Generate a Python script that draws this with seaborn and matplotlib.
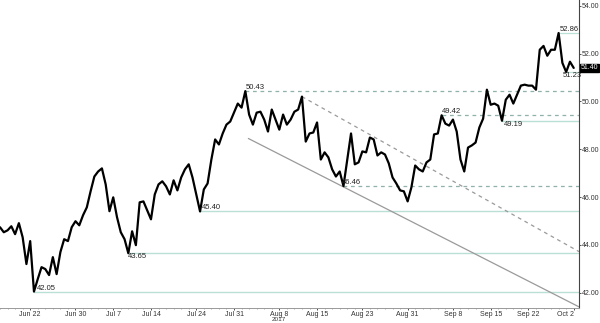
import numpy as np
import pandas as pd
import matplotlib
matplotlib.use("Agg")
import matplotlib.pyplot as plt
import seaborn as sns

# ---- data (half business-day closes, starting Fri Jun 16 2017) ----
close = [
    44.74, 44.53, 44.61, 44.78, 44.45, 44.91, 44.32, 43.20, 44.16, 42.05,
    42.57, 43.07, 42.99, 42.74, 43.49, 42.78, 43.70, 44.24, 44.16, 44.74,
    44.99, 44.82, 45.24, 45.57, 46.24, 46.86, 47.07, 47.20, 46.53, 45.41,
    45.99, 45.16, 44.53, 44.24, 43.65, 44.57, 43.99, 45.78, 45.82, 45.45,
    45.07, 46.11, 46.53, 46.66, 46.45, 46.11, 46.70, 46.28, 46.82, 47.16,
    47.37, 46.82, 46.11, 45.40, 46.32, 46.57, 47.57, 48.41, 48.20, 48.66,
    49.03, 49.16, 49.53, 49.91, 49.74, 50.43, 49.45, 49.03, 49.53, 49.57,
    49.24, 48.74, 49.66, 49.24, 48.82, 49.45, 49.03, 49.24, 49.57, 49.66,
    50.20, 48.32, 48.66, 48.70, 49.12, 47.57, 47.87, 47.66, 47.16, 46.86,
    47.07, 46.46, 47.57, 48.66, 47.37, 47.45, 47.91, 47.87, 48.49, 48.41,
    47.74, 47.87, 47.78, 47.41, 46.82, 46.57, 46.28, 46.24, 45.82, 46.41,
    47.32, 47.16, 47.07, 47.45, 47.57, 48.62, 48.66, 49.42, 49.07, 48.99,
    49.24, 48.74, 47.57, 47.07, 48.07, 48.16, 48.28, 48.91, 49.28, 50.49,
    49.86, 49.91, 49.82, 49.19, 50.07, 50.28, 49.91, 50.28, 50.66, 50.70,
    50.66, 50.66, 50.49, 52.16, 52.32, 51.91, 52.16, 52.16, 52.86, 51.61,
    51.23, 51.66, 51.40,
]
tick_days = [4, 10, 15, 20, 26, 31, 37, 42, 48, 54, 60, 65, 70, 76]
tick_labels = ["Jun 22", "Jun 30", "Jul 7", "Jul 14", "Jul 24", "Jul 31", "Aug 8",
               "Aug 15", "Aug 23", "Aug 31", "Sep 8", "Sep 15", "Sep 22", "Oct 2"]
ytick_vals = [42, 44, 46, 48, 50, 52, 54]

# support / resistance levels: (value, start index in close)
solid_levels = [(42.05, 9), (43.65, 34), (45.40, 53), (49.19, 133)]
dashed_levels = [(50.43, 65), (49.42, 117), (46.46, 91)]
# trend lines: (start day, start value, end value at right edge)
down_dashed = (40.0, 50.20, 43.72)
down_solid = (32.9, 48.45, 41.41)

x_end = 76.7
df = pd.DataFrame({"day": np.arange(len(close)) * 0.5, "price": close})

sns.set_theme(style="white")
plt.rcParams["font.family"] = ["Liberation Sans", "DejaVu Sans"]

fig = plt.figure(figsize=(6.0, 3.23), dpi=100)
ax = fig.add_axes([0.0, 0.047, 0.965, 0.953])

teal = "#b9dfd6"
dash_col = "#8fb3ac"

for val, i in solid_levels:
    ax.plot([df.day[i], x_end], [val, val], color=teal, lw=1.0, zorder=1)
for val, i in dashed_levels:
    ax.plot([df.day[i], x_end], [val, val], color=dash_col, lw=0.9,
            ls=(0, (3, 3)), zorder=1)
ax.plot([down_dashed[0], x_end], [down_dashed[1], down_dashed[2]], color="#9a9a9a",
        lw=0.9, ls=(0, (3, 3)), zorder=1)
ax.plot([down_solid[0], x_end], [down_solid[1], down_solid[2]], color="#9a9a9a",
        lw=0.9, zorder=1)
# short level marks near the end
ax.plot([df.day[148], x_end], [52.86, 52.86], color=teal, lw=0.9, zorder=1)
ax.plot([df.day[150], x_end], [51.23, 51.23], color=teal, lw=0.9, zorder=1)

sns.lineplot(data=df, x="day", y="price", ax=ax, color="black", lw=1.6, zorder=3)

fs = 5.5
tc = "#222222"
# level labels
ax.text(df.day[9] + 0.4, 42.05, "42.05", fontsize=fs, color=tc, va="bottom", ha="left")
ax.text(df.day[34], 43.65, "43.65", fontsize=fs, color=tc, va="top", ha="left")
ax.text(df.day[53] + 0.2, 45.40, "45.40", fontsize=fs, color=tc, va="bottom", ha="left")
ax.text(df.day[91] - 0.2, 46.46, "46.46", fontsize=fs, color=tc, va="bottom", ha="left")
ax.text(df.day[65], 50.43, "50.43", fontsize=fs, color=tc, va="bottom", ha="left")
ax.text(df.day[117], 49.42, "49.42", fontsize=fs, color=tc, va="bottom", ha="left")
ax.text(df.day[133] + 0.2, 49.19, "49.19", fontsize=fs, color=tc, va="top", ha="left")
ax.text(df.day[148] + 0.1, 52.86, "52.86", fontsize=fs, color=tc, va="bottom", ha="left")
ax.text(df.day[150] - 0.4, 51.23, "51.23", fontsize=fs, color=tc, va="top", ha="left")

ax.set_xlim(0, x_end)
ax.set_ylim(41.37, 54.24)

ax.yaxis.tick_right()
ax.set_yticks(ytick_vals)
ax.set_yticklabels([f"{v:.2f}" for v in ytick_vals])
ax.set_xticks(tick_days)
ax.set_xticklabels(tick_labels)
for lab in ax.get_xticklabels():
    if lab.get_text() == "Oct 2":
        lab.set_ha("right")
ax.set_xticks(np.arange(0, 77, 1), minor=True)
ax.tick_params(axis="y", which="both", direction="out", length=1.5, width=0.6,
               labelsize=5.0, pad=0.6, colors="#333333", right=True, left=False)
ax.tick_params(axis="x", which="major", direction="out", length=1.5, width=0.6,
               labelsize=5.0, pad=0.5, colors="#333333", bottom=True)
ax.tick_params(axis="x", which="minor", direction="out", length=1.0, width=0.5,
               colors="#888888", bottom=True)
ax.set_xlabel("")
ax.set_ylabel("")
for s in ["left", "top"]:
    ax.spines[s].set_visible(False)
ax.spines["right"].set_color("#444444")
ax.spines["right"].set_linewidth(0.8)
ax.spines["bottom"].set_color("#999999")
ax.spines["bottom"].set_linewidth(0.7)
ax.grid(False)

# year label under Aug 8
ax.annotate("2017", xy=(37, 0), xycoords=("data", "axes fraction"), xytext=(0, -6.6),
            textcoords="offset points", ha="center", va="top", fontsize=4.6, color="#333333",
            annotation_clip=False)

# last price box
ax.annotate(f"{close[-1]:.2f}", xy=(1.0, close[-1]), xycoords=("axes fraction", "data"),
            xytext=(1, 0), textcoords="offset points", ha="left", va="center",
            fontsize=5.0, color="white", annotation_clip=False,
            bbox=dict(boxstyle="square,pad=0.12", fc="black", ec="black"))

fig.savefig("out.png", dpi=100)
